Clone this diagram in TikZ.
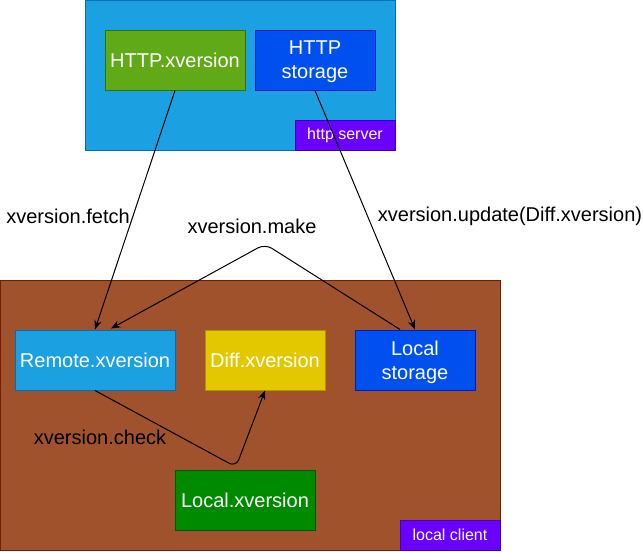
\documentclass[tikz,border=0pt]{standalone}
\usepackage{fontspec}
\setmainfont{Liberation Sans}
\usetikzlibrary{arrows.meta,calc}
\definecolor{srvfill}{HTML}{1BA1E2}
\definecolor{srvdraw}{HTML}{006EAF}
\definecolor{grnfill}{HTML}{60A917}
\definecolor{grndraw}{HTML}{2D7600}
\definecolor{blufill}{HTML}{0050EF}
\definecolor{bludraw}{HTML}{001DBC}
\definecolor{vioFill}{HTML}{6A00FF}
\definecolor{vioDraw}{HTML}{3700CC}
\definecolor{brnfill}{HTML}{A0522D}
\definecolor{brndraw}{HTML}{6D1F00}
\definecolor{yelfill}{HTML}{E3C800}
\definecolor{yeldraw}{HTML}{B09500}
\definecolor{dgrfill}{HTML}{008A00}
\definecolor{dgrdraw}{HTML}{005700}
\tikzset{
  box/.style={rectangle, line width=0.75pt, text=white, font=\fontsize{15}{18}\selectfont, align=center, inner sep=0pt, minimum height=45pt},
  tag/.style={rectangle, line width=0.75pt, text=white, font=\fontsize{12}{14}\selectfont, inner sep=0pt, minimum width=75pt, minimum height=22.5pt},
  lbl/.style={text=black, font=\fontsize{15}{18}\selectfont, inner sep=0pt},
  arr/.style={line width=0.75pt, -{Stealth[length=7pt,width=5.5pt]}},
}
\begin{document}
\begin{tikzpicture}[x=0.75pt,y=-0.75pt]
\useasboundingbox (0,0) rectangle (643,551);
\node[box, fill=srvfill, draw=srvdraw, minimum width=232.5pt, minimum height=112.5pt] (server) at (240,75) {};
\node[box, fill=grnfill, draw=grndraw, minimum width=105pt] (hx) at (175,60) {HTTP.xversion};
\node[box, fill=blufill, draw=bludraw, minimum width=90pt] (hs) at (315,60) {};
\node[align=center, text=white, font=\fontsize{15}{18}\selectfont, inner sep=0pt] (hst) at (315,62) {HTTP\\storage};
\node[tag, fill=vioFill, draw=vioDraw] (hsl) at (345,135) {http server};
\node[box, fill=brnfill, draw=brndraw, minimum width=375pt, minimum height=202.5pt] (client) at (250,415) {};
\node[box, fill=srvfill, draw=srvdraw, minimum width=120pt] (remote) at (95,360) {Remote.xversion};
\node[box, fill=yelfill, draw=yeldraw, minimum width=90pt] (diff) at (265,360) {Diff.xversion};
\node[box, fill=blufill, draw=bludraw, minimum width=90pt] (ls) at (415,360) {};
\node[align=center, text=white, font=\fontsize{15}{18}\selectfont, inner sep=0pt] (lst) at (415,362) {Local\\storage};
\node[box, fill=dgrfill, draw=dgrdraw, minimum width=105pt] (lx) at (245,500) {Local.xversion};
\node[tag, fill=vioFill, draw=vioDraw] (lcl) at (450,535) {local client};
\node[lbl] (lfetch) at (68,216) {xversion.fetch};
\node[lbl] (lupdate) at (510,216) {xversion.update(Diff.xversion)};
\node[lbl] (lmake) at (252,226) {xversion.make};
\node[lbl] (lcheck) at (100,437) {xversion.check};
\coordinate (mk) at (265,244);
\coordinate (ck) at (236,467);
\draw[arr] (hx.south) -- (remote.north);
\draw[arr] (hs.south) -- (ls.north);
\draw[arr, rounded corners=6pt] ($(ls.north)+(-15,0)$) -- (mk) -- ($(remote.north)+(16,-1)$);
\draw[arr, rounded corners=6pt] (remote.south) -- (ck) -- (diff.south);
\end{tikzpicture}
\end{document}
